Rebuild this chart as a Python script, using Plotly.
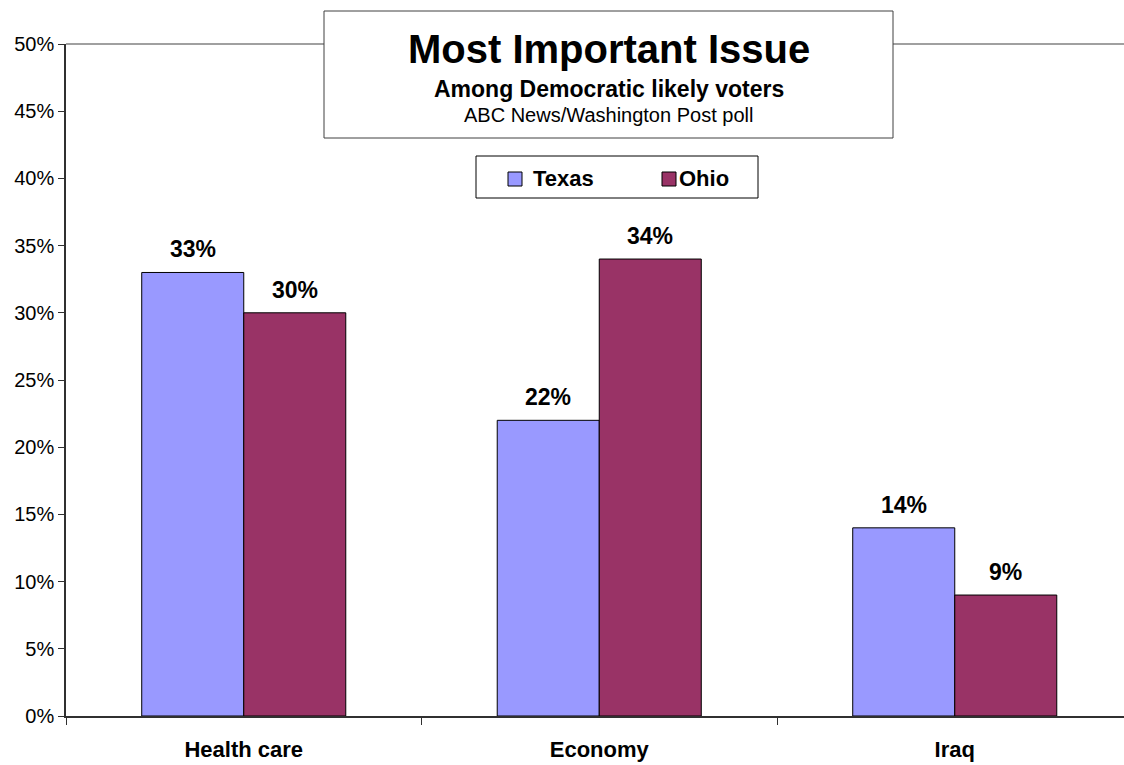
import plotly.graph_objects as go

categories = ["Health care", "Economy", "Iraq"]
texas = [33, 22, 14]
ohio = [30, 34, 9]
series_names = ["Texas", "Ohio"]
series_colors = ["#9999FF", "#993366"]
y_ticks = [0, 5, 10, 15, 20, 25, 30, 35, 40, 45, 50]
y_tick_labels = [f"{v}%" for v in y_ticks]

W, H = 1124, 765
ML, MR, MT, MB = 66, 0, 44, 49
plot_w = W - ML - MR
plot_h = H - MT - MB
cat_px = 355.5
x_pos = list(range(len(categories)))
x_max = -0.5 + plot_w / cat_px

bargap = 0.426
bar_w = (1 - bargap) / 2
font = "Arial, Liberation Sans, sans-serif"


def px_x(p):
    return (p - ML) / plot_w


def px_y(p):
    return (H - MB - p) / plot_h


fig = go.Figure()
for name, vals, col in zip(series_names, (texas, ohio), series_colors):
    fig.add_trace(go.Bar(x=x_pos, y=vals, name=name, showlegend=False,
                         marker=dict(color=col, line=dict(color="#000000", width=1))))

annotations = []
for i, (t, o) in enumerate(zip(texas, ohio)):
    for off, v in ((-bar_w / 2, t), (bar_w / 2, o)):
        annotations.append(dict(x=i + off, y=v, xref="x", yref="y", text=f"<b>{v}%</b>",
                                showarrow=False, yanchor="bottom", yshift=8,
                                font=dict(family=font, size=23, color="#000")))

# title box
bx0, bx1 = px_x(324), px_x(893)
shapes = [
    dict(type="line", xref="paper", yref="paper", x0=0, x1=1, y0=1, y1=1,
         line=dict(color="#808080", width=1.5), layer="below"),
    dict(type="rect", xref="paper", yref="paper", x0=bx0, x1=bx1, y0=px_y(138), y1=px_y(11),
         fillcolor="white", line=dict(color="#404040", width=1)),
    # legend box
    dict(type="rect", xref="paper", yref="paper", x0=px_x(476), x1=px_x(758), y0=px_y(198), y1=px_y(156),
         fillcolor="white", line=dict(color="#000000", width=1)),
]
cx = (bx0 + bx1) / 2
annotations += [
    dict(x=cx, y=px_y(49), xref="paper", yref="paper", text="<b>Most Important Issue</b>",
         showarrow=False, font=dict(family=font, size=40, color="#000"), yanchor="middle"),
    dict(x=cx, y=px_y(89), xref="paper", yref="paper", text="<b>Among Democratic likely voters</b>",
         showarrow=False, font=dict(family=font, size=23, color="#000"), yanchor="middle"),
    dict(x=cx, y=px_y(115), xref="paper", yref="paper", text="ABC News/Washington Post poll",
         showarrow=False, font=dict(family=font, size=20, color="#000"), yanchor="middle"),
]
# legend entries
for name, col, sw_x, tx_x in zip(series_names, series_colors, (508, 662), (531, 677)):
    shapes.append(dict(type="rect", xref="paper", yref="paper", x0=px_x(sw_x), x1=px_x(sw_x + 14),
                       y0=px_y(186), y1=px_y(172), fillcolor=col, line=dict(color="#000", width=1)))
    annotations.append(dict(x=px_x(tx_x), y=px_y(179), xref="paper", yref="paper",
                            text=f"<b>{name}</b>", showarrow=False, xanchor="left", yanchor="middle",
                            font=dict(family=font, size=22, color="#000")))

fig.update_layout(
    width=W, height=H,
    margin=dict(l=ML, r=MR, t=MT, b=MB),
    paper_bgcolor="white", plot_bgcolor="white",
    barmode="group", bargap=bargap, bargroupgap=0,
    font=dict(family=font, color="#000"),
    shapes=shapes, annotations=annotations,
    showlegend=False,
)
fig.update_xaxes(
    range=[-0.5, x_max], tickmode="array", tickvals=x_pos,
    ticktext=[f"<b>{c}</b>" for c in categories],
    tickfont=dict(family=font, size=22, color="#000"),
    ticks="outside", ticklen=13, tickcolor="rgba(0,0,0,0)",
    showline=True, linecolor="#303030", linewidth=1.5,
    showgrid=False, zeroline=False, automargin=False,
    minor=dict(tickmode="array", tickvals=[-0.5, 0.5, 1.5], ticks="outside",
               ticklen=7, tickcolor="#303030", tickwidth=1),
)
fig.update_yaxes(
    range=[0, 50], tickmode="array", tickvals=y_ticks, ticktext=y_tick_labels,
    tickfont=dict(family=font, size=20, color="#000"),
    ticks="outside", ticklen=6, tickcolor="#303030",
    showline=True, linecolor="#303030", linewidth=1.5,
    showgrid=False, zeroline=False, automargin=False,
)

fig.write_html("out.html")
